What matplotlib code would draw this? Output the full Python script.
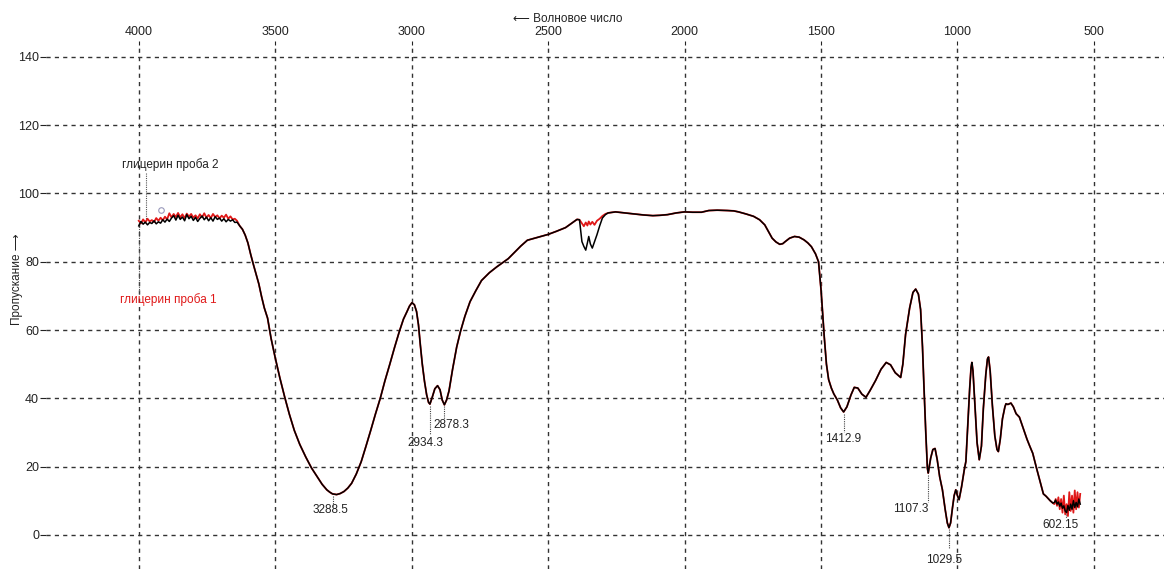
import matplotlib
matplotlib.use("Agg")
import matplotlib.pyplot as plt
import numpy as np

plt.rcParams['font.family'] = ['Liberation Sans', 'DejaVu Sans']

# --- данные: плато 4000-3640 (отдельно для каждой пробы) ---
wn_plateau = [4000, 3992, 3984, 3976, 3968, 3960, 3952, 3944, 3936, 3928,
              3920, 3912, 3904, 3896, 3888, 3880, 3872, 3864, 3856, 3848,
              3840, 3832, 3824, 3816, 3808, 3800, 3792, 3784, 3776, 3768,
              3760, 3752, 3744, 3736, 3728, 3720, 3712, 3704, 3696, 3688,
              3680, 3672, 3664, 3656, 3648, 3640]
t_plateau_2 = [90.5, 91.8, 91.0, 91.6, 90.8, 91.5, 91.2, 92.0, 91.1, 91.7,
               91.3, 92.3, 91.6, 92.5, 91.8, 92.8, 93.5, 92.2, 93.6, 92.4,
               93.1, 92.0, 93.8, 92.6, 93.3, 92.1, 93.0, 91.8, 92.7, 93.4,
               92.3, 93.1, 92.0, 92.9, 91.9, 93.2, 92.4, 92.8, 91.9, 92.6,
               91.7, 92.4, 91.9, 92.3, 91.5, 91.6]
t_plateau_1 = [92.0, 91.2, 92.4, 91.5, 92.6, 91.8, 92.2, 91.6, 92.8, 92.0,
               92.9, 92.1, 93.2, 92.4, 94.2, 93.0, 94.0, 93.1, 94.3, 93.0,
               93.9, 92.8, 94.1, 93.2, 94.0, 92.9, 93.6, 92.7, 93.9, 93.0,
               94.2, 92.9, 93.7, 92.8, 94.0, 93.1, 93.6, 92.7, 93.5, 92.9,
               93.8, 92.6, 93.3, 92.4, 92.6, 92.0]

# --- общая часть 3630-2385 ---
wn_a = [3630, 3620, 3610, 3600, 3590, 3580, 3570, 3560, 3550, 3540,
        3528, 3515, 3500, 3483, 3465, 3448, 3430, 3410, 3388, 3367,
        3346, 3328, 3311, 3300, 3290, 3275, 3262, 3248, 3234, 3220,
        3203, 3185, 3168, 3150, 3133, 3115, 3098, 3080, 3063, 3045,
        3030, 3017, 3008, 2999, 2990, 2982, 2975, 2968, 2961, 2953,
        2945, 2938, 2933, 2925, 2915, 2905, 2896, 2888, 2880, 2872,
        2863, 2850, 2835, 2821, 2805, 2786, 2765, 2744, 2715, 2688,
        2665, 2646, 2620, 2600, 2576, 2540, 2500, 2470, 2436, 2415,
        2394, 2385]
t_a = [90.5, 89.5, 87.8, 85.5, 82.2, 79.2, 76.4, 73.5, 69.8, 66.5,
       63.5, 57.5, 51.9, 46.0, 40.3, 35.3, 30.6, 26.5, 22.8, 19.6,
       17.0, 14.8, 13.2, 12.5, 12.0, 11.8, 12.1, 12.7, 13.7, 15.1,
       17.8, 21.4, 25.8, 30.6, 35.3, 40.0, 45.1, 50.0, 54.8, 59.6,
       63.2, 65.4, 67.0, 68.0, 67.4, 65.4, 61.5, 55.5, 50.0, 45.0,
       41.0, 38.8, 38.3, 40.2, 42.8, 43.7, 42.5, 39.5, 38.1, 39.5,
       42.2, 48.5, 55.0, 59.6, 64.0, 68.3, 71.5, 74.5, 76.8, 78.5,
       79.8, 80.9, 83.0, 84.6, 86.3, 87.1, 88.0, 88.9, 90.0, 91.2,
       92.4, 92.3]

# --- область CO2 2376-2280 ---
wn_co2 = [2376, 2369, 2362, 2356, 2351, 2345, 2338, 2330, 2321, 2311,
          2301, 2290, 2280]
t_co2_2 = [85.9, 84.5, 83.4, 85.5, 87.4, 85.2, 84.0, 85.8, 87.9, 90.5,
           92.8, 93.8, 94.3]
t_co2_1 = [91.2, 90.4, 91.5, 90.6, 91.8, 90.9, 91.7, 90.8, 92.0, 92.6,
           93.4, 94.0, 94.3]

# --- общая часть 2253-650 ---
wn_b = [2253, 2220, 2185, 2150, 2116, 2090, 2062, 2030, 2000, 1970,
        1938, 1911, 1880, 1843, 1820, 1802, 1775, 1747, 1725, 1706,
        1692, 1679, 1665, 1651, 1640, 1631, 1615, 1597, 1580, 1562,
        1548, 1535, 1520, 1509, 1500, 1495, 1488, 1480, 1472, 1462,
        1453, 1440, 1428, 1417, 1405, 1390, 1378, 1365, 1350, 1335,
        1320, 1300, 1280, 1261, 1245, 1228, 1208, 1200, 1190, 1175,
        1163, 1153, 1143, 1135, 1128, 1123, 1116, 1110, 1107, 1098,
        1090, 1082, 1074, 1065, 1055, 1045, 1037, 1031, 1025, 1018,
        1012, 1006, 1000, 994, 985, 975, 969, 962, 955, 950,
        947, 943, 936, 928, 920, 912, 905, 896, 890, 886,
        880, 872, 863, 855, 850, 843, 835, 826, 822, 815,
        804, 795, 785, 773, 760, 745, 735, 724, 710, 695,
        685, 675, 660, 650]
t_b = [94.6, 94.3, 94.0, 93.7, 93.5, 93.6, 93.8, 94.3, 94.6, 94.5,
       94.5, 95.0, 95.1, 95.0, 94.9, 94.6, 94.0, 93.3, 92.3, 90.8,
       88.8, 86.9, 85.8, 85.1, 85.3, 85.9, 86.9, 87.4, 87.2, 86.4,
       85.5, 84.4, 82.3, 80.0, 72.0, 66.0, 58.0, 50.0, 45.5, 43.0,
       41.3, 39.5, 37.2, 36.0, 37.5, 41.0, 43.2, 43.0, 41.2, 40.3,
       42.3, 45.2, 48.5, 50.5, 49.8, 47.5, 46.1, 50.0, 58.7, 66.5,
       71.0, 72.0, 70.5, 66.0, 55.0, 44.2, 30.0, 19.5, 18.1, 22.5,
       25.0, 25.3, 22.0, 17.0, 13.2, 7.5, 3.5, 2.1, 3.5, 8.0,
       11.5, 13.2, 11.5, 10.3, 14.0, 19.0, 21.5, 32.0, 43.0, 49.0,
       50.5, 48.0, 38.0, 27.0, 22.0, 26.0, 37.0, 47.0, 51.5, 52.1,
       48.0, 38.0, 29.0, 25.0, 24.4, 28.0, 34.0, 37.5, 38.4, 38.2,
       38.6, 37.5, 35.5, 34.5, 31.5, 28.0, 26.0, 23.9, 19.5, 15.0,
       12.0, 11.3, 10.0, 9.3]

# --- хвост 645-550 ---
wn_tail = [645, 640, 635, 630, 625, 620, 615, 610, 605, 600,
           595, 590, 585, 580, 575, 570, 565, 560, 555, 550]
t_tail_2 = [9.5, 10.2, 9.0, 9.6, 8.4, 9.3, 7.8, 8.5, 7.0, 6.5,
            8.6, 7.2, 9.0, 7.5, 10.0, 8.0, 9.5, 8.2, 10.5, 9.0]
t_tail_1 = [9.0, 10.5, 8.5, 11.0, 7.5, 10.5, 6.5, 11.5, 6.0, 9.0,
            5.5, 12.5, 7.0, 11.5, 6.5, 13.0, 7.5, 12.5, 8.0, 12.0]

# подписи пиков: (значение, x линии, y от, y до, x текста, y текста)
peak_labels = ['3288.5', '2934.3', '2878.3', '1412.9', '1107.3', '1029.5', '602.15']
peak_x = [3288, 2932, 2880, 1417, 1107, 1031, 602]
peak_y_top = [11.5, 37.8, 37.6, 35.5, 17.6, 1.6, 6.2]
peak_y_bot = [8.5, 29.5, 34.0, 30.0, 9.5, -4.0, 4.8]
label_x = [3298, 2950, 2854, 1420, 1170, 1047, 624]
label_y = [7.2, 27.0, 32.3, 28.0, 7.6, -7.3, 2.8]

x_ticks = [4000, 3500, 3000, 2500, 2000, 1500, 1000, 500]
y_ticks = [0, 20, 40, 60, 80, 100, 120, 140]

wn1 = wn_plateau + wn_a + wn_co2 + wn_b + wn_tail
t1 = t_plateau_1 + t_a + t_co2_1 + t_b + t_tail_1
wn2 = wn_plateau + wn_a + wn_co2 + wn_b + wn_tail
t2 = t_plateau_2 + t_a + t_co2_2 + t_b + t_tail_2

fig = plt.figure(figsize=(11.64, 5.69), dpi=100)
ax = fig.add_axes([0.0395, 0.0, 0.9605, 0.921])

ax.plot(wn1, t1, color='#e01818', lw=1.3, zorder=3)
ax.plot(wn2, t2, color='black', lw=1.1, zorder=4)

ax.set_xlim(4340, 243)
ax.set_ylim(-10, 143.5)
ax.set_xticks(x_ticks)
ax.set_yticks(y_ticks)
ax.xaxis.tick_top()
ax.tick_params(axis='x', length=3, pad=2, labelsize=9, colors='#222222')
ax.tick_params(axis='y', length=4, pad=1, labelsize=9, colors='#222222')
for s in ax.spines.values():
    s.set_visible(False)
ax.grid(True, color='#333333', lw=1.0, linestyle=(0, (3, 3)))
ax.set_axisbelow(True)

for lab, px, y0, y1, lx, ly in zip(peak_labels, peak_x, peak_y_top, peak_y_bot, label_x, label_y):
    ax.plot([px, px], [y0, y1], color='#444444', lw=0.8, linestyle=(0, (1, 1)), zorder=5)
    ax.text(lx, ly, lab, ha='center', va='center', fontsize=8.5, color='#222222')

# подписи проб
ax.text(4062, 108.4, 'глицерин проба 2', ha='left', va='center', fontsize=8.5, color='#222222')
ax.plot([3972, 3972], [106, 92], color='#555555', lw=0.8, linestyle=(0, (1, 1)))
ax.text(4068, 68.8, 'глицерин проба 1', ha='left', va='center', fontsize=8.5, color='#e01818')
ax.plot([3998, 3998], [70.5, 91], color='#555555', lw=0.8, linestyle=(0, (1, 1)))
ax.plot([3920], [95.2], marker='o', ms=4, mfc='none', mec='#9999bb', mew=0.8)

fig.text(0.4405, 0.967, '⟵ Волновое число', ha='left', va='center', fontsize=8.5, color='#222222')
fig.text(0.0146, 0.51, 'Пропускание ⟶', rotation=90, ha='center', va='center',
         fontsize=8.5, color='#222222')

fig.savefig('out.png', dpi=100)
